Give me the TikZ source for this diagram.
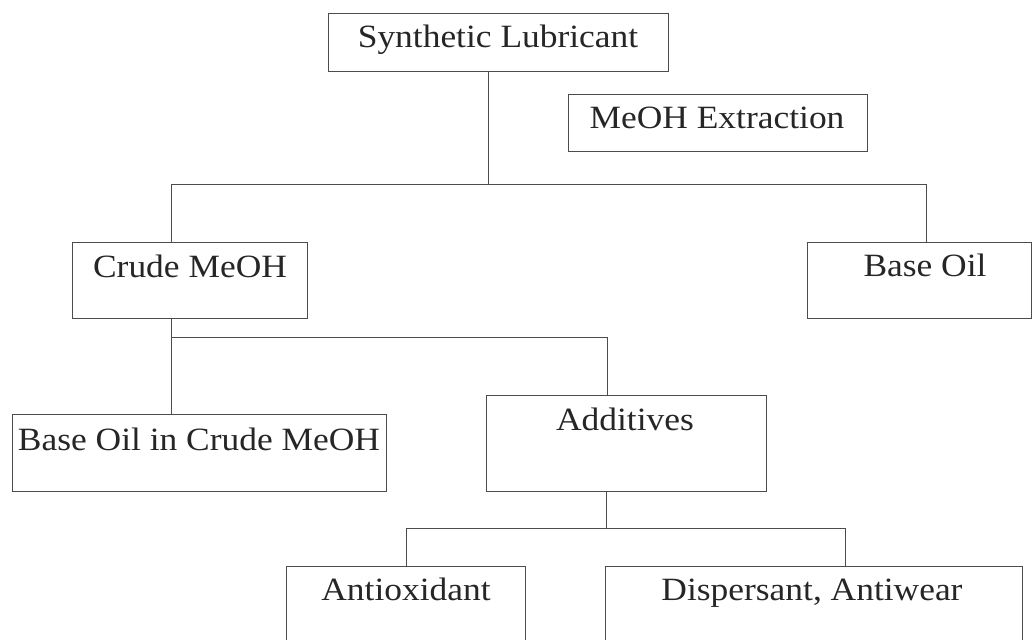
\documentclass[tikz,border=0pt]{standalone}
\usepackage{fontspec}
\setmainfont{Liberation Serif}[FakeStretch=1.09]
\definecolor{ln}{gray}{0.30}
\definecolor{tx}{gray}{0.15}
\tikzset{
  box/.style={draw=ln, line width=0.9pt, inner sep=0pt, anchor=north west},
  openbox/.style={inner sep=0pt, anchor=north west},
  txt/.style={text=tx, anchor=base, inner sep=0pt, font=\fontsize{32.5}{38}\selectfont},
  conn/.style={draw=ln, line width=0.9pt},
}
\begin{document}
\begin{tikzpicture}[x=1pt,y=-1pt]
\useasboundingbox (0,0) rectangle (1032,639);
\clip (0,0) rectangle (1032,639);
\fill[white] (0,0) rectangle (1032,639);
% boxes
\node[box, minimum width=340, minimum height=58] (syn) at (328,13) {};
\node[box, minimum width=299, minimum height=57] (ext) at (568,94) {};
\node[box, minimum width=235, minimum height=76] (crude) at (72,242) {};
\node[box, minimum width=224, minimum height=76] (base) at (807,242) {};
\node[box, minimum width=374, minimum height=77] (boc) at (12,414) {};
\node[box, minimum width=280, minimum height=96] (add) at (486,395) {};
\node[openbox, minimum width=239, minimum height=90] (anti) at (286,566) {};
\node[openbox, minimum width=417, minimum height=90] (disp) at (605,566) {};
\draw[conn] (anti.south west) -- (anti.north west) -- (anti.north east) -- (anti.south east);
\draw[conn] (disp.south west) -- (disp.north west) -- (disp.north east) -- (disp.south east);
% texts
\node[txt] (syn-t) at (498,48) {Synthetic Lubricant};
\node[txt] (ext-t) at (717,129) {MeOH Extraction};
\node[txt] (crude-t) at (190,277) {Crude MeOH};
\node[txt] (base-t) at (925,276) {Base Oil};
\node[txt] (boc-t) at (199,450) {Base Oil in Crude MeOH};
\node[txt] (add-t) at (625,430) {Additives};
\node[txt] (anti-t) at (406,600) {Antioxidant};
\node[txt] (disp-t) at (812,600) {Dispersant, Antiwear};
% junctions
\coordinate (j1) at (488,184);
\coordinate (j1l) at (171,184);
\coordinate (j1r) at (926,184);
\coordinate (j2) at (171,337);
\coordinate (j2r) at (607,337);
\coordinate (j3) at (606,528);
\coordinate (j3l) at (406,528);
\coordinate (j3r) at (845,528);
% connectors
\draw[conn] (syn.south -| j1) -- (j1);
\draw[conn] (crude.north -| j1l) |- (j1r) -- (base.north -| j1r);
\draw[conn] (crude.south -| j2) -- (boc.north -| j2);
\draw[conn] (j2) -- (j2r) -- (add.north -| j2r);
\draw[conn] (add.south -| j3) -- (j3);
\draw[conn] (anti.north -| j3l) |- (j3r) -- (disp.north -| j3r);
\end{tikzpicture}
\end{document}
